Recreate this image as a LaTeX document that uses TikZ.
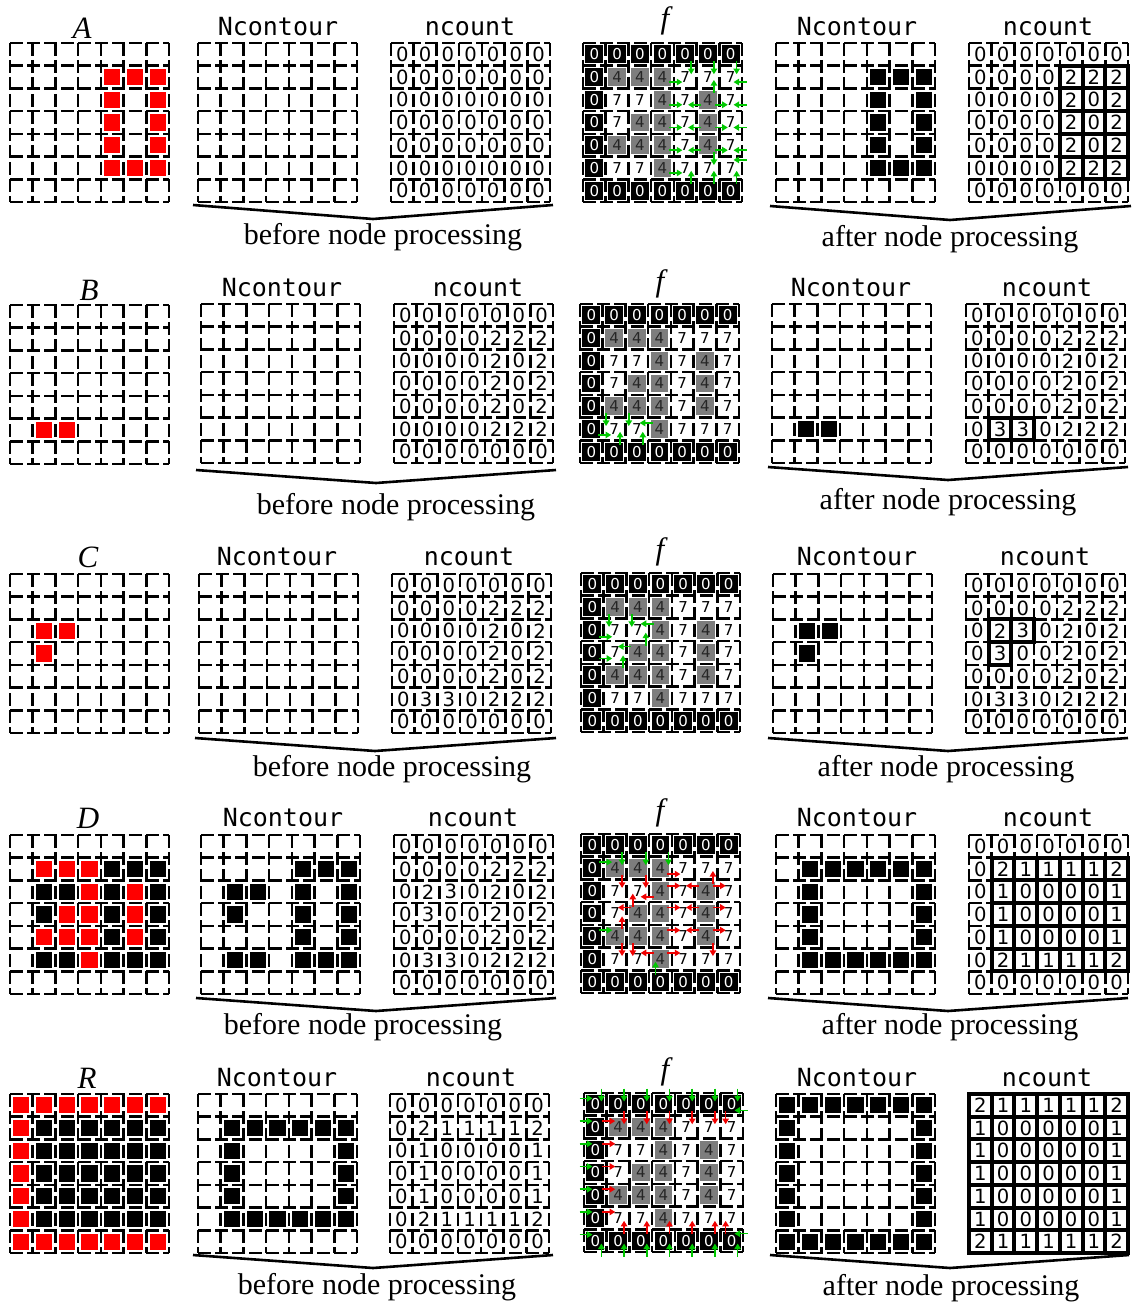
\documentclass[tikz,border=0pt]{standalone}
\usepackage{fontspec}
\setmainfont{Liberation Serif}
\newfontfamily\monofont{DejaVu Sans Mono}
\newfontfamily\digfont{DejaVu Sans}
\usetikzlibrary{arrows.meta}
\definecolor{lred}{RGB}{255,0,0}
\definecolor{agreen}{RGB}{0,200,0}
\definecolor{ared}{RGB}{240,0,0}
\definecolor{fgray}{RGB}{125,125,125}
\def\s{22.714}
\tikzset{
  gridline/.style={line width=1.3pt, dash pattern=on 6.5pt off 2pt},
  sqr/.style={minimum size=8.6pt, inner sep=0pt, draw=white, line width=0.5pt},
  fcell/.style={minimum size=9.5pt, inner sep=0pt, draw=white, line width=0.6pt, font=\digfont\fontsize{7.5}{8}\selectfont},
  numtxt/.style={inner sep=0pt, font=\digfont\fontsize{9.8}{10}\selectfont},
  thickcell/.style={line width=2pt},
  arrowst/.style={line width=0.8pt, -{Triangle[length=2.8pt,width=3.2pt]}},
  title/.style={font=\monofont\fontsize{12.5}{14}\selectfont, inner sep=0pt},
  mlabel/.style={font=\itshape\fontsize{15.5}{17}\selectfont, inner sep=0pt},
  caption/.style={font=\fontsize{15}{17}\selectfont, inner sep=0pt},
  bracket/.style={line width=1.3pt},
}
\newcommand\dgrid{\foreach \gi in {0,...,7}{%
  \draw[gridline] ({\gi*\s},0) -- ({\gi*\s},159);
  \draw[gridline] (0,{\gi*\s}) -- (159,{\gi*\s});}}
\newcommand\sqs[2]{\edef\sqlist{#2}\foreach \rw/\cl in \sqlist {\node[sqr,fill=#1] (\gid-\rw-\cl) at ({(\cl+0.5)*\s},{(\rw+0.5)*\s}) {};}}
\newcommand\nums[1]{\foreach \row [count=\rw from 0] in #1 {\foreach \val [count=\cl from 0] in \row {\node[numtxt] (\gid-\rw-\cl) at ({(\cl+0.5)*\s},{(\rw+0.5)*\s}) {\val};}}}
\newcommand\thk[1]{\edef\thlist{#1}\foreach \rw/\cl in \thlist {\draw[thickcell] ({\cl*\s},{\rw*\s}) rectangle ++(\s,\s);}}
\newcommand\thkblock[4]{\foreach \rw in {#1,...,#2}{\foreach \cl in {#3,...,#4}{\draw[thickcell] ({\cl*\s},{\rw*\s}) rectangle ++(\s,\s);}}}
\newcommand\panel[4]{\begin{scope}[shift={(#2,#3)}]\def\gid{#1}\dgrid #4\end{scope}}
\newcommand\fvals{{0,0,0,0,0,0,0},{0,4,4,4,7,7,7},{0,7,7,4,7,4,7},{0,7,4,4,7,4,7},{0,4,4,4,7,4,7},{0,7,7,4,7,7,7},{0,0,0,0,0,0,0}}
\newcommand\fcells{\foreach \row [count=\rw from 0] in \fvals {\foreach \val [count=\cl from 0] in \row {%
  \ifnum\val=0 \def\fc{black}\def\tc{white}\else\ifnum\val=4 \def\fc{fgray}\def\tc{black!85}\else\def\fc{white}\def\tc{black}\fi\fi
  \node[fcell,fill=\fc,text=\tc] (\gid-\rw-\cl) at ({(\cl+0.5)*\s},{(\rw+0.5)*\s}) {\val};}}}
\newcommand\aR[2]{\foreach \rw/\cl/\ofs in {#2}{\draw[arrowst,#1] ({(\cl+1)*\s-4.5},{(\rw+0.5)*\s+\ofs}) -- ++(13,0);}}
\newcommand\aL[2]{\foreach \rw/\cl/\ofs in {#2}{\draw[arrowst,#1] ({\cl*\s+4.5},{(\rw+0.5)*\s+\ofs}) -- ++(-13,0);}}
\newcommand\aD[2]{\foreach \rw/\cl/\ofs in {#2}{\draw[arrowst,#1] ({(\cl+0.5)*\s+\ofs},{(\rw+1)*\s-4.5}) -- ++(0,13);}}
\newcommand\aU[2]{\foreach \rw/\cl/\ofs in {#2}{\draw[arrowst,#1] ({(\cl+0.5)*\s+\ofs},{\rw*\s+4.5}) -- ++(0,-13);}}
\newcommand\zerosv{{0,0,0,0,0,0,0},{0,0,0,0,0,0,0},{0,0,0,0,0,0,0},{0,0,0,0,0,0,0},{0,0,0,0,0,0,0},{0,0,0,0,0,0,0},{0,0,0,0,0,0,0}}
\newcommand\ncAv{{0,0,0,0,0,0,0},{0,0,0,0,2,2,2},{0,0,0,0,2,0,2},{0,0,0,0,2,0,2},{0,0,0,0,2,0,2},{0,0,0,0,2,2,2},{0,0,0,0,0,0,0}}
\newcommand\ncBv{{0,0,0,0,0,0,0},{0,0,0,0,2,2,2},{0,0,0,0,2,0,2},{0,0,0,0,2,0,2},{0,0,0,0,2,0,2},{0,3,3,0,2,2,2},{0,0,0,0,0,0,0}}
\newcommand\ncCv{{0,0,0,0,0,0,0},{0,0,0,0,2,2,2},{0,2,3,0,2,0,2},{0,3,0,0,2,0,2},{0,0,0,0,2,0,2},{0,3,3,0,2,2,2},{0,0,0,0,0,0,0}}
\newcommand\ncDv{{0,0,0,0,0,0,0},{0,2,1,1,1,1,2},{0,1,0,0,0,0,1},{0,1,0,0,0,0,1},{0,1,0,0,0,0,1},{0,2,1,1,1,1,2},{0,0,0,0,0,0,0}}
\newcommand\ncRv{{2,1,1,1,1,1,2},{1,0,0,0,0,0,1},{1,0,0,0,0,0,1},{1,0,0,0,0,0,1},{1,0,0,0,0,0,1},{1,0,0,0,0,0,1},{2,1,1,1,1,1,2}}
\newcommand\setA{1/4,1/5,1/6,2/4,2/6,3/4,3/6,4/4,4/6,5/4,5/5,5/6}
\newcommand\setABC{1/4,1/5,1/6,2/1,2/2,2/4,2/6,3/1,3/4,3/6,4/4,4/6,5/1,5/2,5/4,5/5,5/6}
\newcommand\setDc{1/1,1/2,1/3,1/4,1/5,1/6,2/1,2/6,3/1,3/6,4/1,4/6,5/1,5/2,5/3,5/4,5/5,5/6}
\def\xa{10}\def\xb{198}\def\xc{391}\def\xd{583}\def\xe{776}\def\xf{969}
\begin{document}
\begin{tikzpicture}[x=0.5pt,y=-0.5pt]
\path[use as bounding box, fill=white] (0,0) rectangle (1131,1305);

% ---------------- Row A ----------------
\node[mlabel] (labA) at (82,28) {A};
\panel{A0}{\xa}{43}{\sqs{lred}{\setA}}
\node[title] (tA1) at (278,27) {Ncontour};
\panel{A1}{\xb}{43}{}
\node[title] (tA2) at (470,27) {ncount};
\panel{A2}{\xc}{43}{\nums\zerosv}
\node[mlabel] (fA) at (665,21) {f};
\panel{A3}{\xd}{43}{\fcells
  \aD{agreen}{0/4/6,0/5/6,0/6/6,4/5/6}
  \aU{agreen}{2/5/6,6/4/6,6/5/6,6/6/6}
  \aR{agreen}{1/3/5,2/3/5,3/3/5,4/3/5,5/3/5,2/5/5,3/5/5,4/5/5}
  \aL{agreen}{2/5/5,3/5/5,4/5/5,1/7/5,2/7/5,3/7/5,4/7/5,5/7/-8}}
\node[title] (tA4) at (857,27) {Ncontour};
\panel{A4}{\xe}{43}{\sqs{black}{\setA}}
\node[title] (tA5) at (1048,27) {ncount};
\panel{A5}{\xf}{43}{\thkblock{1}{5}{4}{6}\nums\ncAv}
\coordinate (A-bl) at (193,205); \coordinate (A-bm) at (373,219); \coordinate (A-br) at (553,205);
\draw[bracket] (A-bl) -- (A-bm) -- (A-br);
\node[caption] (A-c1) at (383,237) {before node processing};
\coordinate (A-al) at (770,206); \coordinate (A-am) at (950,220); \coordinate (A-ar) at (1131,206);
\draw[bracket] (A-al) -- (A-am) -- (A-ar);
\node[caption] (A-c2) at (950,239) {after node processing};

% ---------------- Row B ----------------
\node[mlabel] (labB) at (89,290) {B};
\panel{B0}{\xa}{305}{\sqs{lred}{5/1,5/2}}
\node[title] (tB1) at (282,288) {Ncontour};
\panel{B1}{201}{304}{}
\node[title] (tB2) at (478,288) {ncount};
\panel{B2}{394}{304}{\nums\ncAv}
\node[mlabel] (fB) at (660,284) {f};
\panel{B3}{580}{304}{\fcells
  \aD{agreen}{4/1/-8,4/2/-8}
  \aR{agreen}{5/0/6}
  \aU{agreen}{6/1/6,6/2/6}
  \aL{agreen}{5/3/-6}}
\node[title] (tB4) at (851,288) {Ncontour};
\panel{B4}{772}{304}{\sqs{black}{5/1,5/2}}
\node[title] (tB5) at (1047,288) {ncount};
\panel{B5}{966}{304}{\thk{5/1,5/2}\nums\ncBv}
\coordinate (B-bl) at (196,470); \coordinate (B-bm) at (376,483); \coordinate (B-br) at (556,470);
\draw[bracket] (B-bl) -- (B-bm) -- (B-br);
\node[caption] (B-c1) at (396,507) {before node processing};
\coordinate (B-al) at (768,467); \coordinate (B-am) at (948,480); \coordinate (B-ar) at (1128,467);
\draw[bracket] (B-al) -- (B-am) -- (B-ar);
\node[caption] (B-c2) at (948,502) {after node processing};

% ---------------- Row C ----------------
\node[mlabel] (labC) at (88,557) {C};
\panel{C0}{\xa}{574}{\sqs{lred}{2/1,2/2,3/1}}
\node[title] (tC1) at (277,557) {Ncontour};
\panel{C1}{199}{574}{}
\node[title] (tC2) at (469,557) {ncount};
\panel{C2}{392}{574}{\nums\ncBv}
\node[mlabel] (fC) at (660,552) {f};
\panel{C3}{581}{573}{\fcells
  \aD{agreen}{1/1/-6,1/2/-6}
  \aL{agreen}{2/3/-6,3/2/-6}
  \aU{agreen}{3/2/8,4/1/8}
  \aR{agreen}{2/0/7,3/0/6}}
\node[title] (tC4) at (857,557) {Ncontour};
\panel{C4}{773}{574}{\sqs{black}{2/1,2/2,3/1}}
\node[title] (tC5) at (1045,557) {ncount};
\panel{C5}{966}{574}{\thk{2/1,2/2,3/1}\nums\ncCv}
\coordinate (C-bl) at (195,738); \coordinate (C-bm) at (375,751); \coordinate (C-br) at (556,738);
\draw[bracket] (C-bl) -- (C-bm) -- (C-br);
\node[caption] (C-c1) at (392,769) {before node processing};
\coordinate (C-al) at (768,738); \coordinate (C-am) at (948,751); \coordinate (C-ar) at (1128,738);
\draw[bracket] (C-al) -- (C-am) -- (C-ar);
\node[caption] (C-c2) at (946,769) {after node processing};

% ---------------- Row D ----------------
\node[mlabel] (labD) at (88,818) {D};
\panel{D0}{\xa}{835}{\sqs{lred}{1/1,1/2,1/3,2/3,2/5,3/2,3/3,3/5,4/1,4/2,4/3,4/5,5/3}\sqs{black}{\setABC}}
\node[title] (tD1) at (283,818) {Ncontour};
\panel{D1}{201}{835}{\sqs{black}{\setABC}}
\node[title] (tD2) at (473,818) {ncount};
\panel{D2}{394}{835}{\nums\ncCv}
\node[mlabel] (fD) at (660,813) {f};
\panel{D3}{581}{834}{\fcells
  \aR{agreen}{1/0/-6,4/0/-6}
  \aD{agreen}{0/1/7,0/2/8,0/3/8}
  \aU{agreen}{6/3/-5}
  \aD{ared}{1/1/7,1/2/8,4/1/7,4/2/-5,4/5/7}
  \aR{ared}{1/3/6,2/3/-5,2/5/-5,3/3/-6,3/5/-6,4/3/-6,4/5/-6,5/3/-6}
  \aL{ared}{2/3/6,2/5/-5,3/2/-6,3/5/-6,4/5/-6,5/3/-6}
  \aU{ared}{2/5/7,3/2/-5,4/1/7}}
\node[title] (tD4) at (857,818) {Ncontour};
\panel{D4}{776}{835}{\sqs{black}{\setDc}}
\node[title] (tD5) at (1048,818) {ncount};
\panel{D5}{969}{835}{\thkblock{1}{5}{1}{6}\nums\ncDv}
\coordinate (D-bl) at (196,998); \coordinate (D-bm) at (376,1011); \coordinate (D-br) at (556,998);
\draw[bracket] (D-bl) -- (D-bm) -- (D-br);
\node[caption] (D-c1) at (363,1027) {before node processing};
\coordinate (D-al) at (768,998); \coordinate (D-am) at (948,1011); \coordinate (D-ar) at (1128,998);
\draw[bracket] (D-al) -- (D-am) -- (D-ar);
\node[caption] (D-c2) at (950,1027) {after node processing};

% ---------------- Row R ----------------
\node[mlabel] (labR) at (87,1078) {R};
\panel{R0}{\xa}{1094}{\sqs{lred}{0/0,0/1,0/2,0/3,0/4,0/5,0/6,1/0,2/0,3/0,4/0,5/0,6/0,6/1,6/2,6/3,6/4,6/5,6/6}
  \sqs{black}{1/1,1/2,1/3,1/4,1/5,1/6,2/1,2/2,2/3,2/4,2/5,2/6,3/1,3/2,3/3,3/4,3/5,3/6,4/1,4/2,4/3,4/4,4/5,4/6,5/1,5/2,5/3,5/4,5/5,5/6}}
\node[title] (tR1) at (277,1078) {Ncontour};
\panel{R1}{198}{1094}{\sqs{black}{\setDc}}
\node[title] (tR2) at (471,1078) {ncount};
\panel{R2}{390}{1094}{\nums\ncDv}
\node[mlabel] (fR) at (665,1072) {f};
\panel{R3}{584}{1093}{\fcells
  \aD{agreen}{-1/0/6,-1/1/6,-1/2/6,-1/3/6,-1/4/6,-1/5/6,-1/6/6}
  \aR{agreen}{0/-1/-6,1/-1/-6,2/-1/-6,3/-1/-6,4/-1/-6,5/-1/-6,6/-1/-6}
  \aU{agreen}{7/0/6,7/1/6,7/2/6,7/3/6,7/4/6,7/5/6,7/6/6}
  \aL{agreen}{0/7/6,6/7/-7}
  \aR{ared}{1/0/-6,2/0/-6,3/0/-6,4/0/-6,5/0/-6}
  \aD{ared}{0/1/6,0/2/6,0/3/6,0/4/6,0/5/6,0/6/-6}
  \aU{ared}{6/1/6,6/2/6,6/3/6,6/4/6,6/5/6,6/6/-6}}
\node[title] (tR4) at (857,1078) {Ncontour};
\panel{R4}{776}{1094}{\sqs{black}{0/0,0/1,0/2,0/3,0/4,0/5,0/6,1/0,2/0,3/0,4/0,5/0,1/6,2/6,3/6,4/6,5/6,6/0,6/1,6/2,6/3,6/4,6/5,6/6}}
\node[title] (tR5) at (1047,1078) {ncount};
\panel{R5}{969}{1094}{\thkblock{0}{6}{0}{6}\nums\ncRv}
\coordinate (R-bl) at (193,1255); \coordinate (R-bm) at (373,1268); \coordinate (R-br) at (553,1255);
\draw[bracket] (R-bl) -- (R-bm) -- (R-br);
\node[caption] (R-c1) at (377,1287) {before node processing};
\coordinate (R-al) at (770,1255); \coordinate (R-am) at (950,1268); \coordinate (R-ar) at (1129,1255);
\draw[bracket] (R-al) -- (R-am) -- (R-ar);
\node[caption] (R-c2) at (951,1288) {after node processing};
\end{tikzpicture}
\end{document}
